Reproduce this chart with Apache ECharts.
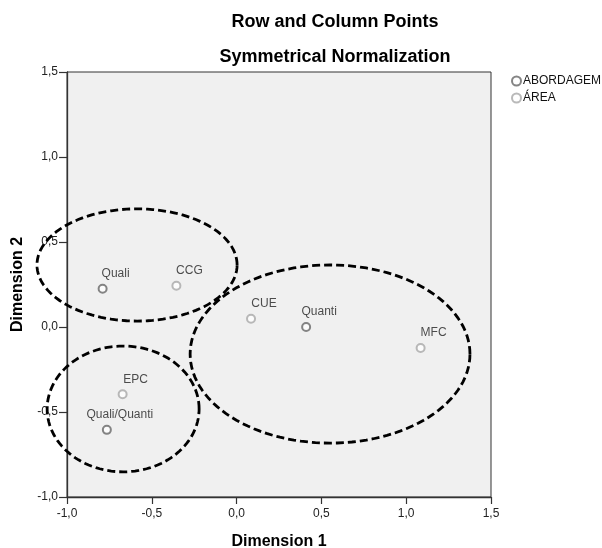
<!DOCTYPE html>
<html>
<head>
<meta charset="utf-8">
<script src="https://cdn.jsdelivr.net/npm/echarts@6/dist/echarts.min.js"></script>
<style>
  html, body { margin: 0; padding: 0; background: #fff; }
  #chart { width: 602px; height: 548px; }
</style>
</head>
<body>
<div id="chart"></div>
<script>
// pontos da ACM (dimensão 1, dimensão 2)
const abordagemNames = ["Quali", "Quanti", "Quali/Quanti"];
const abordagemX = [-0.79, 0.41, -0.765];
const abordagemY = [0.225, 0.0, -0.605];

const areaNames = ["CCG", "CUE", "MFC", "EPC"];
const areaX = [-0.355, 0.085, 1.085, -0.672];
const areaY = [0.243, 0.049, -0.124, -0.396];

// elipses tracejadas: centro x, centro y, raio x, raio y (unidades dos eixos)
const ellipseCx = [-0.587, 0.551, -0.669];
const ellipseCy = [0.365, -0.159, -0.482];
const ellipseRx = [0.59, 0.825, 0.448];
const ellipseRy = [0.33, 0.524, 0.37];

const ticks = [-1.0, -0.5, 0.0, 0.5, 1.0, 1.5];

const FONT = "Liberation Sans, Arial, sans-serif";
const chart = echarts.init(document.getElementById("chart"));

function fmt(v) {
  return v.toFixed(1).replace(".", ",");
}

function pts(names, xs, ys) {
  return names.map((n, i) => ({ name: n, value: [xs[i], ys[i]] }));
}

const labelStyle = {
  show: true,
  position: "inside",
  offset: [13, -15],
  formatter: "{b}",
  color: "#222",
  fontSize: 12,
  fontFamily: FONT
};

chart.setOption({
  animation: false,
  title: [
    {
      text: "Row and Column Points",
      left: 330, top: 8, textAlign: "center",
      textStyle: { fontSize: 18, fontWeight: "bold", color: "#000", fontFamily: FONT }
    },
    {
      text: "Symmetrical Normalization",
      left: 330, top: 43, textAlign: "center",
      textStyle: { fontSize: 18, fontWeight: "bold", color: "#000", fontFamily: FONT }
    }
  ],
  legend: {
    orient: "vertical",
    left: 506, top: 70,
    itemWidth: 9, itemHeight: 9, itemGap: 5,
    textStyle: { fontSize: 12, color: "#111", fontFamily: FONT, padding: [0, 0, 0, -3] },
    data: [
      { name: "ABORDAGEM", icon: "emptyCircle", itemStyle: { color: "#666", borderColor: "#666", borderWidth: 1.2 } },
      { name: "ÁREA", icon: "emptyCircle", itemStyle: { color: "#a8a8a8", borderColor: "#a8a8a8", borderWidth: 1.2 } }
    ]
  },
  grid: {
    left: 67, right: 111, top: 72, bottom: 51,
    outerBoundsMode: "none",
    containLabel: false,
    show: true, backgroundColor: "#f0f0f0", borderColor: "#333", borderWidth: 1
  },
  xAxis: {
    type: "value", min: -1.0, max: 1.5, interval: 0.5,
    name: "Dimension 1", nameLocation: "middle", nameGap: 37,
    nameTextStyle: { fontSize: 16, fontWeight: "bold", color: "#000", fontFamily: FONT },
    axisLine: { show: true, onZero: false, lineStyle: { color: "#333", width: 1.3 } },
    axisTick: { show: true, length: 7, lineStyle: { color: "#333", width: 1.2 } },
    axisLabel: { formatter: fmt, fontSize: 12, color: "#222", fontFamily: FONT, margin: 11, showMaxLabel: true, showMinLabel: true },
    splitLine: { show: false }
  },
  yAxis: {
    type: "value", min: -1.0, max: 1.5, interval: 0.5,
    name: "Dimension 2", nameLocation: "middle", nameGap: 41, nameRotate: 90,
    nameTextStyle: { fontSize: 16, fontWeight: "bold", color: "#000", fontFamily: FONT },
    axisLine: { show: true, onZero: false, lineStyle: { color: "#333", width: 1.3 } },
    axisTick: { show: true, length: 8, lineStyle: { color: "#333", width: 1.2 } },
    axisLabel: { formatter: fmt, fontSize: 12, color: "#222", fontFamily: FONT, margin: 9 },
    splitLine: { show: false }
  },
  series: [
    {
      name: "ABORDAGEM",
      type: "scatter",
      symbol: "emptyCircle",
      symbolSize: 8,
      itemStyle: { color: "#666", borderWidth: 1.5 },
      label: labelStyle,
      data: pts(abordagemNames, abordagemX, abordagemY),
      z: 5
    },
    {
      name: "ÁREA",
      type: "scatter",
      symbol: "emptyCircle",
      symbolSize: 8,
      itemStyle: { color: "#a8a8a8", borderWidth: 1.5 },
      label: labelStyle,
      data: pts(areaNames, areaX, areaY),
      z: 5
    },
    {
      type: "custom",
      clip: false,
      silent: true,
      data: ellipseCx.map((cx, i) => [cx, ellipseCy[i], ellipseRx[i], ellipseRy[i]]),
      renderItem: function (params, api) {
        const cx = api.value(0), cy = api.value(1), rx = api.value(2), ry = api.value(3);
        const points = [];
        for (let k = 0; k <= 120; k++) {
          const t = (k / 120) * Math.PI * 2;
          points.push(api.coord([cx + rx * Math.cos(t), cy + ry * Math.sin(t)]));
        }
        return {
          type: "polyline",
          shape: { points: points },
          style: { stroke: "#000", fill: null, lineWidth: 2.8, lineDash: [8, 4] }
        };
      },
      z: 10
    }
  ]
});
</script>
</body>
</html>
